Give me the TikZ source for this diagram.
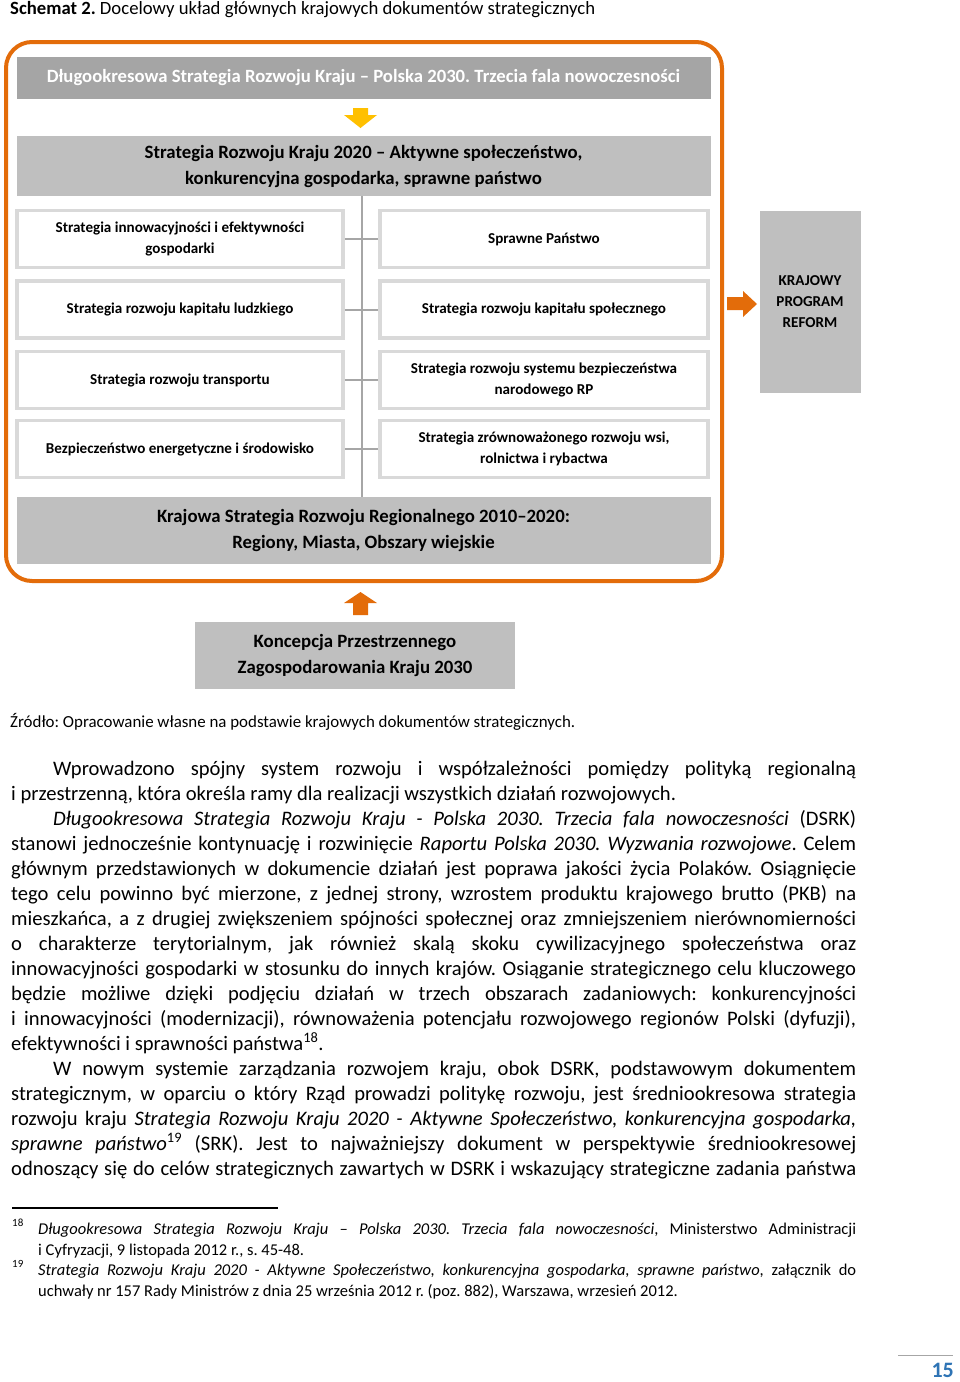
\documentclass[tikz,border=0pt]{standalone}
\usepackage{fontspec}
\setmainfont{Carlito}
\frenchspacing
\definecolor{orng}{HTML}{E36C0A}
\definecolor{goldarrow}{HTML}{FFC000}
\definecolor{darkbar}{HTML}{A5A5A5}
\definecolor{lightbar}{HTML}{BFBFBF}
\definecolor{boxline}{HTML}{D9D9D9}
\definecolor{connline}{HTML}{A6A6A6}
\definecolor{pgblue}{HTML}{2E74B5}
\newcommand\fTitle{\fontsize{18.7}{22}\selectfont}
\newcommand\fHead{\fontsize{18.7}{22}\selectfont\bfseries}
\newcommand\fBar{\fontsize{18.8}{26}\selectfont\bfseries}
\newcommand\fBox{\fontsize{15.1}{21}\selectfont\bfseries}
\newcommand\fBody{\fontsize{20.6}{25}\selectfont}
\newcommand\fNote{\fontsize{16.5}{20}\selectfont}
\newcommand\jl[2]{\makebox[#1][s]{#2}}
\begin{document}
\begin{tikzpicture}[x=1pt,y=-1pt,
  frame/.style={draw=orng, line width=4pt, rounded corners=26pt},
  bar/.style={fill=lightbar, align=center, inner sep=0pt, font=\fBar},
  sbox/.style={draw=boxline, line width=3.5pt, fill=white, align=center, inner sep=0pt, font=\fBox, minimum height=57pt},
  conn/.style={draw=connline, line width=2pt},
  txt/.style={anchor=base west, inner sep=0pt, font=\fBody},
  note/.style={anchor=base west, inner sep=0pt, font=\fNote}]
\useasboundingbox[fill=white] (0,0) rectangle (960,1382);

\node[anchor=base west, inner sep=0pt, font=\fTitle] (title) at (10,14) {\textbf{Schemat 2.} Docelowy układ głównych krajowych dokumentów strategicznych};

\draw[frame] (6,42) rectangle (722,581);

\node[bar, fill=darkbar, text=white, minimum width=694pt, minimum height=42pt, font=\fHead] (dsrk) at (363.5,78) {Długookresowa Strategia Rozwoju Kraju – Polska 2030. Trzecia fala nowoczesności};
\node[bar, minimum width=694pt, minimum height=60pt] (srk) at (363.5,166) {Strategia Rozwoju Kraju 2020 – Aktywne społeczeństwo,\\konkurencyjna gospodarka, sprawne państwo};
\node[bar, minimum width=694pt, minimum height=67pt] (krr) at (363.5,530.5) {Krajowa Strategia Rozwoju Regionalnego 2010–2020:\\Regiony, Miasta, Obszary wiejskie};
\node[bar, minimum width=101pt, minimum height=182pt, font=\fBox] (kpr) at (810,302) {KRAJOWY\\PROGRAM\\REFORM};
\node[bar, minimum width=320pt, minimum height=67pt] (kpzk) at (355,655.5) {Koncepcja Przestrzennego\\Zagospodarowania Kraju 2030};

\coordinate (spine) at (361.5,200);
\draw[conn] (srk.south -| spine) -- (krr.north -| spine);

\node[sbox, minimum width=326pt] (l1) at (180,239) {Strategia innowacyjności i efektywności\\gospodarki};
\node[sbox, minimum width=326pt] (l2) at (180,309.5) {Strategia rozwoju kapitału ludzkiego};
\node[sbox, minimum width=326pt] (l3) at (180,380) {Strategia rozwoju transportu};
\node[sbox, minimum width=326pt] (l4) at (180,449) {Bezpieczeństwo energetyczne i środowisko};
\node[sbox, minimum width=328pt] (r1) at (544,239) {Sprawne Państwo};
\node[sbox, minimum width=328pt] (r2) at (544,309.5) {Strategia rozwoju kapitału społecznego};
\node[sbox, minimum width=328pt] (r3) at (544,380) {Strategia rozwoju systemu bezpieczeństwa\\narodowego RP};
\node[sbox, minimum width=328pt] (r4) at (544,449) {Strategia zrównoważonego rozwoju wsi,\\rolnictwa i rybactwa};
\foreach \i in {1,2,3,4} \draw[conn] (l\i.east) -- (r\i.west);

% block arrows
\fill[goldarrow] (353,108) -- (368,108) -- (368,115) -- (377,115) -- (360.5,128) -- (344,115) -- (353,115) -- cycle;
\fill[orng] (353,615) -- (368,615) -- (368,603) -- (377,603) -- (360.5,592) -- (344,603) -- (353,603) -- cycle;
\fill[orng] (727,297) -- (743,297) -- (743,291) -- (757,304) -- (743,317) -- (743,310) -- (727,310) -- cycle;

\node[anchor=base west, inner sep=0pt, font=\fontsize{16.9}{20}\selectfont] (src) at (10,727) {Źródło: Opracowanie własne na podstawie krajowych dokumentów strategicznych.};

% body text
\node[txt] (b0) at (53,775) {\jl{803pt}{Wprowadzono spójny system rozwoju i współzależności pomiędzy polityką regionalną}};
\node[txt] (b1) at (11,800) {i przestrzenną, która określa ramy dla realizacji wszystkich działań rozwojowych.};
\node[txt] (b2) at (53,825) {\jl{803pt}{\textit{Długookresowa Strategia Rozwoju Kraju - Polska 2030. Trzecia fala nowoczesności} (DSRK)}};
\node[txt] (b3) at (11,850) {\jl{845pt}{stanowi jednocześnie kontynuację i rozwinięcie \textit{Raportu Polska 2030. Wyzwania rozwojowe}. Celem}};
\node[txt] (b4) at (11,875) {\jl{845pt}{głównym przedstawionych w dokumencie działań jest poprawa jakości życia Polaków. Osiągnięcie}};
\node[txt] (b5) at (11,900) {\jl{845pt}{tego celu powinno być mierzone, z jednej strony, wzrostem produktu krajowego brutto (PKB) na}};
\node[txt] (b6) at (11,925) {\jl{845pt}{mieszkańca, a z drugiej zwiększeniem spójności społecznej oraz zmniejszeniem nierównomierności}};
\node[txt] (b7) at (11,950) {\jl{845pt}{o charakterze terytorialnym, jak również skalą skoku cywilizacyjnego społeczeństwa oraz}};
\node[txt] (b8) at (11,975) {\jl{845pt}{innowacyjności gospodarki w stosunku do innych krajów. Osiąganie strategicznego celu kluczowego}};
\node[txt] (b9) at (11,1000) {\jl{845pt}{będzie możliwe dzięki podjęciu działań w trzech obszarach zadaniowych: konkurencyjności}};
\node[txt] (b10) at (11,1025) {\jl{845pt}{i innowacyjności (modernizacji), równoważenia potencjału rozwojowego regionów Polski (dyfuzji),}};
\node[txt] (b11) at (11,1050) {efektywności i sprawności państwa\textsuperscript{18}.};
\node[txt] (b12) at (53,1075) {\jl{803pt}{W nowym systemie zarządzania rozwojem kraju, obok DSRK, podstawowym dokumentem}};
\node[txt] (b13) at (11,1100) {\jl{845pt}{strategicznym, w oparciu o który Rząd prowadzi politykę rozwoju, jest średniookresowa strategia}};
\node[txt] (b14) at (11,1125) {\jl{845pt}{rozwoju kraju \textit{Strategia Rozwoju Kraju 2020 - Aktywne Społeczeństwo, konkurencyjna gospodarka,}}};
\node[txt] (b15) at (11,1150) {\jl{845pt}{\textit{sprawne państwo}\textsuperscript{19} (SRK). Jest to najważniejszy dokument w perspektywie średniookresowej}};
\node[txt] (b16) at (11,1175) {\jl{845pt}{odnoszący się do celów strategicznych zawartych w DSRK i wskazujący strategiczne zadania państwa}};

% footnotes
\draw[line width=1.5pt] (12,1208) -- (278,1208);
\node[note, font=\fontsize{11}{12}\selectfont] (n18) at (12,1226) {18};
\node[note] (f1) at (38,1234) {\jl{818pt}{\textit{Długookresowa Strategia Rozwoju Kraju – Polska 2030. Trzecia fala nowoczesności}, Ministerstwo Administracji}};
\node[note] (f2) at (38,1255) {i Cyfryzacji, 9 listopada 2012 r., s. 45-48.};
\node[note, font=\fontsize{11}{12}\selectfont] (n19) at (12,1267) {19};
\node[note] (f3) at (38,1275) {\jl{818pt}{\textit{Strategia Rozwoju Kraju 2020 - Aktywne Społeczeństwo, konkurencyjna gospodarka, sprawne państwo}, załącznik do}};
\node[note] (f4) at (38,1296) {uchwały nr 157 Rady Ministrów z dnia 25 września 2012 r. (poz. 882), Warszawa, wrzesień 2012.};

% page number
\draw[connline, line width=1pt] (898,1355) -- (953,1355);
\node[anchor=base east, inner sep=0pt, text=pgblue, font=\fontsize{22}{24}\selectfont\bfseries] (pg) at (954,1377) {15};
\end{tikzpicture}
\end{document}
